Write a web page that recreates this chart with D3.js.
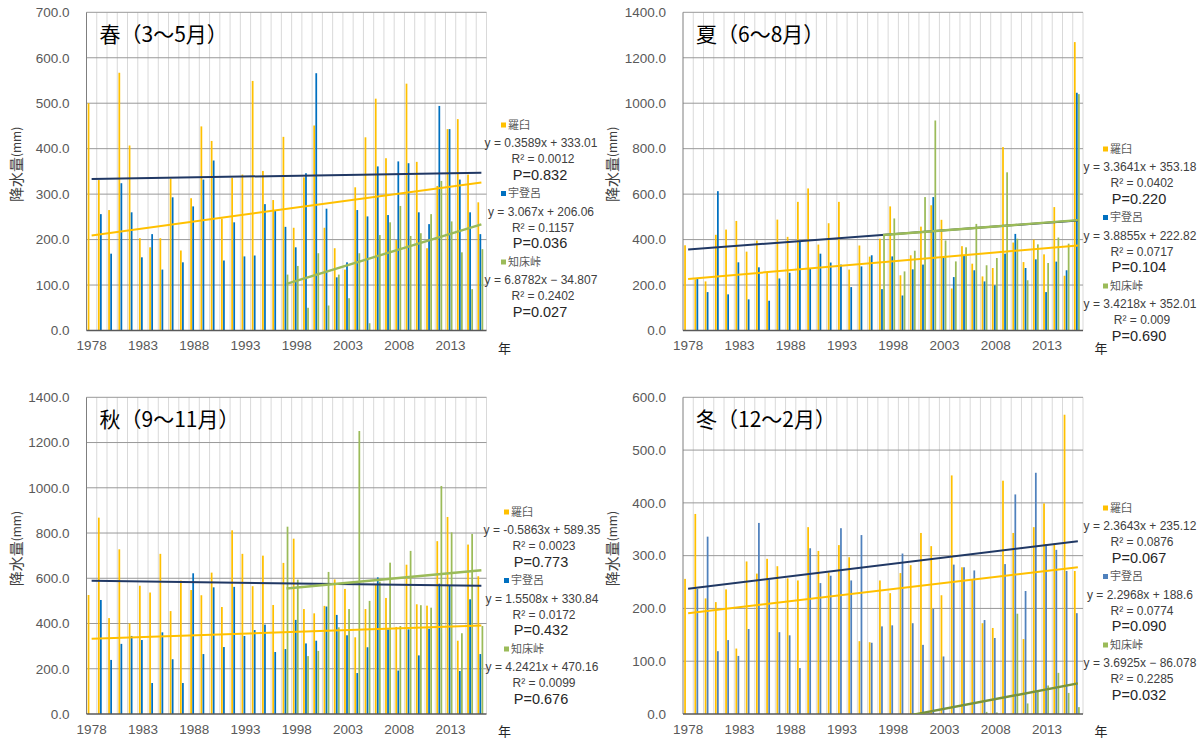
<!DOCTYPE html>
<html>
<head>
<meta charset="utf-8">
<script src="https://cdn.jsdelivr.net/npm/d3@7/dist/d3.min.js"></script>
<style>
  body { margin: 0; background: #fff; }
  svg { display: block; }
  text { font-family: "Liberation Sans", Arial, "Noto Sans CJK JP", sans-serif; }
  .jp { font-family: "Noto Sans CJK JP", "Liberation Sans", sans-serif; }
</style>
</head>
<body>
<svg id="chart" width="1203" height="740"></svg>
<script>
// ---- categories ----
const years = [1978,1979,1980,1981,1982,1983,1984,1985,1986,1987,
               1988,1989,1990,1991,1992,1993,1994,1995,1996,1997,
               1998,1999,2000,2001,2002,2003,2004,2005,2006,2007,
               2008,2009,2010,2011,2012,2013,2014,2015,2016];
const yearTicks = [1978,1983,1988,1993,1998,2003,2008,2013];
const stations = ["羅臼", "宇登呂", "知床峠"];

// ---- seasonal precipitation (mm) ----
const springRausu = [500,331,265,567,407,203,183,203,334,176,291,449,417,246,336,343,549,351,287,426,
                     226,337,451,226,181,134,315,425,510,379,199,543,371,181,318,443,465,343,282];
const springUtoro = [null,256,169,324,260,161,212,134,293,150,273,332,374,154,238,163,165,278,263,228,
                     183,346,566,268,117,150,265,251,361,254,372,368,260,234,494,443,332,260,212];
const springToge  = [null,null,null,null,null,null,null,null,null,null,null,null,null,null,null,null,null,null,null,123,
                     142,50,170,55,123,71,170,16,210,238,274,208,214,256,329,240,172,91,179];

const summerRausu = [375,225,216,421,444,482,347,396,253,488,412,566,625,378,472,566,268,374,325,404,
                     546,243,331,457,551,487,185,371,294,238,275,807,387,301,400,335,543,241,1269];
const summerUtoro = [null,231,169,613,159,300,137,278,131,229,254,390,271,338,299,290,191,282,331,182,
                     326,154,269,290,587,324,235,328,265,216,199,338,425,275,313,169,303,265,1046];
const summerToge  = [null,null,null,null,null,null,null,null,null,null,null,null,null,null,null,null,null,null,null,419,
                     493,260,351,587,924,396,304,366,469,287,319,696,404,221,379,297,409,382,1040];

const autumnRausu = [526,868,424,728,401,567,537,708,455,590,548,525,625,473,812,708,565,700,482,668,
                     775,464,445,478,595,553,339,464,575,513,385,660,485,479,764,871,324,749,609];
const autumnUtoro = [null,504,239,310,345,327,137,361,242,137,622,265,560,296,562,345,371,395,274,287,
                     416,312,324,475,438,348,181,295,604,374,192,374,259,377,576,566,190,507,265];
const autumnToge  = [null,null,null,null,null,null,null,null,null,null,null,null,null,null,null,null,null,null,null,828,
                     594,256,279,628,383,464,1251,500,585,669,389,721,481,470,1008,803,357,796,389];

const winterRausu = [256,379,219,212,236,124,289,266,294,280,257,253,354,309,268,320,297,138,136,253,
                     229,267,282,343,318,225,452,278,254,172,163,442,343,142,354,399,323,567,271];
const winterUtoro = [null,237,336,119,140,110,161,362,254,155,149,87,314,248,262,352,253,339,135,166,
                     168,304,172,131,199,109,283,278,272,178,144,284,416,233,457,322,311,271,191];
const winterToge  = [null,null,null,null,null,null,null,null,null,null,null,null,null,null,null,null,null,null,null,0,
                     0,0,0,0,0,0,0,0,0,4,3,0,190,20,42,54,78,40,13];

// ---- linear trends (x = 1 for 1978) ----
const springSlope = [0.3589, 3.067, 6.8782], springIntercept = [333.01, 206.06, -34.807];
const springR2 = [0.0012, 0.1157, 0.2402],   springP = [0.832, 0.036, 0.027];
const summerSlope = [3.3641, 3.8855, 3.4218], summerIntercept = [353.18, 222.82, 352.01];
const summerR2 = [0.0402, 0.0717, 0.009],    summerP = [0.220, 0.104, 0.690];
const autumnSlope = [-0.5863, 1.5508, 4.2421], autumnIntercept = [589.35, 330.84, 470.16];
const autumnR2 = [0.0023, 0.0172, 0.0099],   autumnP = [0.773, 0.432, 0.676];
const winterSlope = [2.3643, 2.2968, 3.6925], winterIntercept = [235.12, 188.6, -86.078];
const winterR2 = [0.0876, 0.0774, 0.2285],   winterP = [0.067, 0.090, 0.032];
const trendFrom = [1978, 1978, 1997];

// ---- panel layout ----
const panels = [
  { title: "春（3～5月）", data: [springRausu, springUtoro, springToge],
    slope: springSlope, intercept: springIntercept, r2: springR2, p: springP,
    yMax: 700, yStep: 100, l: 86.5, r: 486.5, t: 12.3, b: 330.5,
    lgX: 503, lgC: 541, lgY: 125, blue: "#0070C0", greenLine: "#9BBB59" },
  { title: "夏（6～8月）", data: [summerRausu, summerUtoro, summerToge],
    slope: summerSlope, intercept: summerIntercept, r2: summerR2, p: summerP,
    yMax: 1400, yStep: 200, l: 683, r: 1083, t: 12.3, b: 330.5,
    lgX: 1105, lgC: 1140, lgY: 149, blue: "#0070C0", greenLine: "#9BBB59" },
  { title: "秋（9～11月）", data: [autumnRausu, autumnUtoro, autumnToge],
    slope: autumnSlope, intercept: autumnIntercept, r2: autumnR2, p: autumnP,
    yMax: 1400, yStep: 200, l: 86.5, r: 486.5, t: 397.3, b: 714,
    lgX: 506, lgC: 542, lgY: 512, blue: "#0070C0", greenLine: "#9BBB59" },
  { title: "冬（12～2月）", data: [winterRausu, winterUtoro, winterToge],
    slope: winterSlope, intercept: winterIntercept, r2: winterR2, p: winterP,
    yMax: 600, yStep: 100, l: 683, r: 1083, t: 397.3, b: 714,
    lgX: 1105, lgC: 1140, lgY: 508, blue: "#4F81BD", greenLine: "#77933C" }
];

const svg = d3.select("#chart");
const orange = "#FFC000", green = "#9BBB59", navy = "#203864";

panels.forEach((P, pi) => {
  const g = svg.append("g");
  const x = d3.scaleBand().domain(years).range([P.l, P.r]).padding(0);
  const y = d3.scaleLinear().domain([0, P.yMax]).range([P.b, P.t]);
  const bw = x.bandwidth();
  const barColors = [orange, P.blue, green];
  const lineColors = [navy, orange, P.greenLine];

  // vertical gridlines at category boundaries
  const bounds = years.map(d => x(d)).concat([P.r]);
  g.append("g").selectAll("line").data(bounds.slice(1)).join("line")
    .attr("x1", d => d).attr("x2", d => d)
    .attr("y1", P.t).attr("y2", P.b)
    .attr("stroke", "#d9d9d9").attr("stroke-width", 1);

  // horizontal gridlines
  const yTicks = d3.range(0, P.yMax + P.yStep / 2, P.yStep);
  g.append("g").selectAll("line").data(yTicks.slice(1)).join("line")
    .attr("x1", P.l).attr("x2", P.r)
    .attr("y1", d => y(d)).attr("y2", d => y(d))
    .attr("stroke", "#999").attr("stroke-width", 1);

  // y axis labels
  const yAxis = d3.axisLeft(y).tickValues(yTicks).tickFormat(d3.format(".1f"))
    .tickSize(0).tickPadding(17);
  const ya = g.append("g").attr("transform", `translate(${P.l},0)`).call(yAxis);
  ya.select(".domain").remove();
  ya.selectAll("text").attr("fill", "#595959").style("font-size", "13.5px")
    .style("font-family", '"Liberation Sans", Arial, sans-serif');

  // x axis labels
  const xAxis = d3.axisBottom(x).tickValues(yearTicks).tickSize(0).tickPadding(10);
  const xa = g.append("g").attr("transform", `translate(0,${P.b})`).call(xAxis);
  xa.select(".domain").remove();
  xa.selectAll("text").attr("fill", "#595959").style("font-size", "13.5px")
    .style("font-family", '"Liberation Sans", Arial, sans-serif');

  // bars (4 slots per category; the fourth is unused)
  const barW = bw * 0.17;
  P.data.forEach((series, s) => {
    const pts = years.map((yr, i) => ({ yr, v: series[i] })).filter(d => d.v !== null);
    g.append("g").selectAll("rect").data(pts).join("rect")
      .attr("x", d => x(d.yr) + bw * 0.2 * (s + 1) - barW / 2)
      .attr("width", barW)
      .attr("y", d => y(d.v))
      .attr("height", d => y(0) - y(d.v))
      .attr("fill", barColors[s]);
  });

  // axis lines
  g.append("line").attr("x1", P.l).attr("x2", P.l).attr("y1", P.t).attr("y2", P.b)
    .attr("stroke", "#7f7f7f").attr("stroke-width", 1);
  g.append("line").attr("x1", P.l).attr("x2", P.r).attr("y1", P.b).attr("y2", P.b)
    .attr("stroke", "#595959").attr("stroke-width", 1.3);

  // trend lines, clipped to the plot area
  const clipId = "clip" + pi;
  svg.append("clipPath").attr("id", clipId).append("rect")
    .attr("x", P.l).attr("y", P.t).attr("width", P.r - P.l).attr("height", P.b - P.t);
  const tl = g.append("g").attr("clip-path", `url(#${clipId})`);
  P.slope.forEach((m, s) => {
    const i0 = years.indexOf(trendFrom[s]), i1 = years.length - 1;
    const f = i => m * (i + 1) + P.intercept[s];
    tl.append("line")
      .attr("x1", x(years[i0]) + bw / 2).attr("y1", y(f(i0)))
      .attr("x2", x(years[i1]) + bw / 2).attr("y2", y(f(i1)))
      .attr("stroke", lineColors[s]).attr("stroke-width", s === 2 ? 2.4 : 2);
  });

  // panel title
  g.append("text").attr("class", "jp")
    .attr("x", P.l + 13).attr("y", P.t + 30)
    .style("font-size", "21px").attr("fill", "#000")
    .text(P.title);

  // y axis title
  const yc = (P.t + P.b) / 2 - 7;
  const yt = g.append("text").attr("class", "jp")
    .attr("transform", `translate(${P.l - 69},${yc}) rotate(-90)`)
    .attr("text-anchor", "middle").attr("dominant-baseline", "middle")
    .attr("fill", "#404040").style("font-size", "15px");
  yt.append("tspan").text("降水量");
  yt.append("tspan").style("font-size", "12px").text("(mm)");

  // x axis title
  g.append("text").attr("class", "jp")
    .attr("x", P.r + 18).attr("y", P.b + 22)
    .attr("text-anchor", "middle")
    .attr("fill", "#262626").style("font-size", "13px").text("年");

  // legend with trend statistics
  const fmtEq = (m, c) => `y = ${m}x ${c < 0 ? "−" : "+"} ${Math.abs(c)}`;
  stations.forEach((name, s) => {
    const y0 = P.lgY + s * 68.5;
    g.append("rect").attr("x", P.lgX - 2).attr("y", y0 - 2.5)
      .attr("width", 5).attr("height", 5).attr("fill", barColors[s]);
    g.append("text").attr("class", "jp")
      .attr("x", P.lgX + 5).attr("y", y0 + 3.8)
      .attr("fill", "#595959").style("font-size", "11px").text(name);
    g.append("text").attr("x", P.lgC).attr("y", y0 + 18 + 4.2)
      .attr("text-anchor", "middle").attr("fill", "#404040").style("font-size", "12px")
      .text(fmtEq(P.slope[s], P.intercept[s]));
    g.append("text").attr("x", P.lgC + 2).attr("y", y0 + 34 + 4.2)
      .attr("text-anchor", "middle").attr("fill", "#404040").style("font-size", "12px")
      .text(`R² = ${P.r2[s]}`);
    g.append("text").attr("x", P.lgC - 1).attr("y", y0 + 49.5 + 5.2)
      .attr("text-anchor", "middle").attr("fill", "#262626").style("font-size", "14.5px")
      .text(`P=${P.p[s].toFixed(3)}`);
  });
});
</script>
</body>
</html>
